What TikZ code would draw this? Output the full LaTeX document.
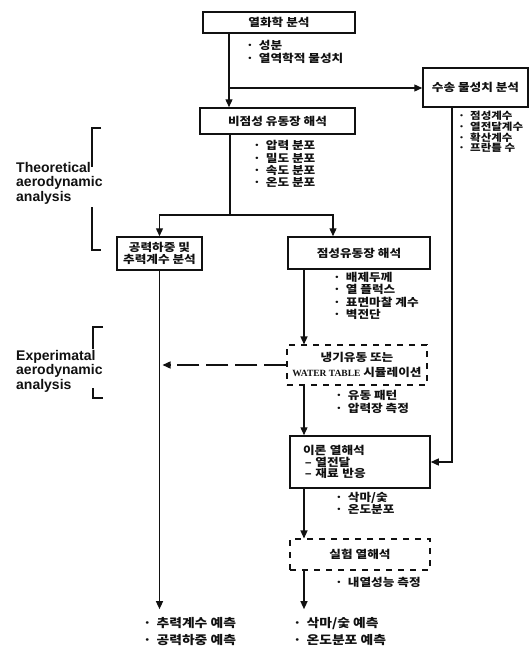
\documentclass[tikz,border=0pt]{standalone}
\usepackage{fontspec}
\newfontfamily\krfont[FakeStretch=1.15]{Noto Sans CJK KR}
\newfontfamily\wtfont{Liberation Serif}
\setsansfont{Liberation Sans}
\usetikzlibrary{arrows.meta,positioning}
\definecolor{flowInk}{HTML}{111111}
\newcommand{\flowdot}{·\hspace{5pt}}
\tikzset{
  every picture/.style={text=flowInk},
  flow box/.style={draw=flowInk, line width=1.5pt, fill=white, align=center,
    inner sep=0pt, font=\krfont\bfseries\fontsize{11}{12.5}\selectfont},
  flow test/.style={flow box, line width=1.1pt, dash pattern=on 6pt off 6pt},
  flow note/.style={align=left, inner sep=0pt, anchor=west,
    font=\krfont\bfseries\fontsize{11}{12.3}\selectfont},
  flow result/.style={flow note, font=\krfont\bfseries\fontsize{12}{17}\selectfont},
  flow line/.style={draw=flowInk, line width=1.3pt},
  flow arrow/.style={flow line, -{Triangle[length=8pt,width=7pt]}},
  flow label/.style={align=left, inner sep=0pt, anchor=west,
    font=\sffamily\bfseries\fontsize{14}{14.5}\selectfont},
  flow bracket/.style={draw=flowInk, line width=1.2pt}
}

\begin{document}
\begin{tikzpicture}[x=1pt,y=-1pt]
  \useasboundingbox (0,0) rectangle (531,646);
  % analysis boxes
  \node[flow box, minimum width=152pt, minimum height=21pt] (thermo) at (279,22.5) {열화학 분석};
  \node[flow box, minimum width=105pt, minimum height=39pt] (transport) at (475.5,87.5) {수송 물성치 분석};
  \node[flow box, minimum width=155pt, minimum height=26pt] (inviscid) at (277.5,121) {비점성 유동장 해석};
  \node[flow box, minimum width=85pt, minimum height=33pt] (aero) at (159.5,253.5) {공력하중 및\\추력계수 분석};
  \node[flow box, minimum width=142pt, minimum height=32pt] (viscous) at (359,253) {점성유동장 해석};
  \node[flow test, minimum width=140pt, minimum height=40pt,
    font=\krfont\bfseries\fontsize{11}{15}\selectfont] (cold) at (357,365)
    {냉기유동 또는\\{\wtfont\fontsize{9.5}{15}\selectfont WATER TABLE} 시뮬레이션};
  \node[flow box, minimum width=140pt, minimum height=52pt, text width=114pt, align=left,
    font=\krfont\bfseries\fontsize{11}{11.5}\selectfont] (theory) at (360,462)
    {이론 열해석\\\,–\ 열전달\\\,–\ 재료 반응};
  \node[flow test, minimum width=140pt, minimum height=31pt] (exper) at (360,554.5) {실험 열해석};

  % notes
  \node[flow note, font=\krfont\bfseries\fontsize{11}{13}\selectfont] (thermoNotes) at (246,51.5) {\flowdot 성분\\\flowdot 열역학적 물성치};
  \node[flow note, font=\krfont\bfseries\fontsize{10}{10.7}\selectfont] (transportNotes) at (458,132) {\flowdot 점성계수\\\flowdot 열전달계수\\\flowdot 확산계수\\\flowdot 프란틀 수};
  \node[flow note] (inviscidNotes) at (253,164) {\flowdot 압력 분포\\\flowdot 밀도 분포\\\flowdot 속도 분포\\\flowdot 온도 분포};
  \node[flow note] (viscousNotes) at (333,296) {\flowdot 배제두께\\\flowdot 열 플럭스\\\flowdot 표면마찰 계수\\\flowdot 벽전단};
  \node[flow note, font=\krfont\bfseries\fontsize{11}{13}\selectfont] (coldNotes) at (335,401.5) {\flowdot 유동 패턴\\\flowdot 압력장 측정};
  \node[flow note] (theoryNotes) at (335,503.5) {\flowdot 삭마/숯\\\flowdot 온도분포};
  \node[flow note] (experNotes) at (335,582) {\flowdot 내열성능 측정};
  \node[flow result] (result1) at (143,631.5) {\flowdot 추력계수 예측\\\flowdot 공력하중 예측};
  \node[flow result] (result2) at (293,631.5) {\flowdot 삭마/숯 예측\\\flowdot 온도분포 예측};

  % side labels
  \node[flow label] (theoLabel) at (16,183) {Theoretical\\aerodynamic\\analysis};
  \node[flow label] (expLabel) at (16,371) {Experimatal\\aerodynamic\\analysis};
  \draw[flow bracket] (101,128) -- (92,128) -- (92,167);
  \draw[flow bracket] (92,207) -- (92,250) -- (101,250);
  \draw[flow bracket] (103,327) -- (93,327) -- (93,349);
  \draw[flow bracket] (93,388) -- (93,398) -- (103,398);

  % connectors
  \coordinate (thermoSplit) at (229,88);
  \coordinate (aeroSplit) at (230,215);
  \coordinate (spine) at (304,0);
  \coordinate (transportDrop) at (452,0);
  \draw[flow line] (thermo.south -| thermoSplit) -- (thermoSplit);
  \draw[flow arrow] (thermoSplit) -- (inviscid.north -| thermoSplit);
  \draw[flow arrow] (thermoSplit) -- (transport.west |- thermoSplit);
  \draw[flow line] (inviscid.south -| aeroSplit) -- (aeroSplit);
  \draw[flow arrow] (aeroSplit) -| (aero.north);
  \draw[flow arrow] (aeroSplit) -| ([xshift=-26pt]viscous.north);
  \draw[flow arrow] (viscous.south -| spine) -- (cold.north -| spine);
  \draw[flow arrow] (cold.south -| spine) -- (theory.north -| spine);
  \draw[flow arrow] (theory.south -| spine) -- (exper.north -| spine);
  \draw[flow arrow] (exper.south -| spine) -- ([yshift=8pt]spine |- result2.north);
  \draw[flow arrow] (aero.south) -- ([yshift=8pt]aero.south |- result1.north);
  \draw[flow arrow] (transport.south -| transportDrop) |- (theory.east);
  \draw[flow arrow, dash pattern=on 22pt off 7pt] (cold.west) -- ([xshift=3pt]cold.west -| aero.south);
\end{tikzpicture}
\end{document}
